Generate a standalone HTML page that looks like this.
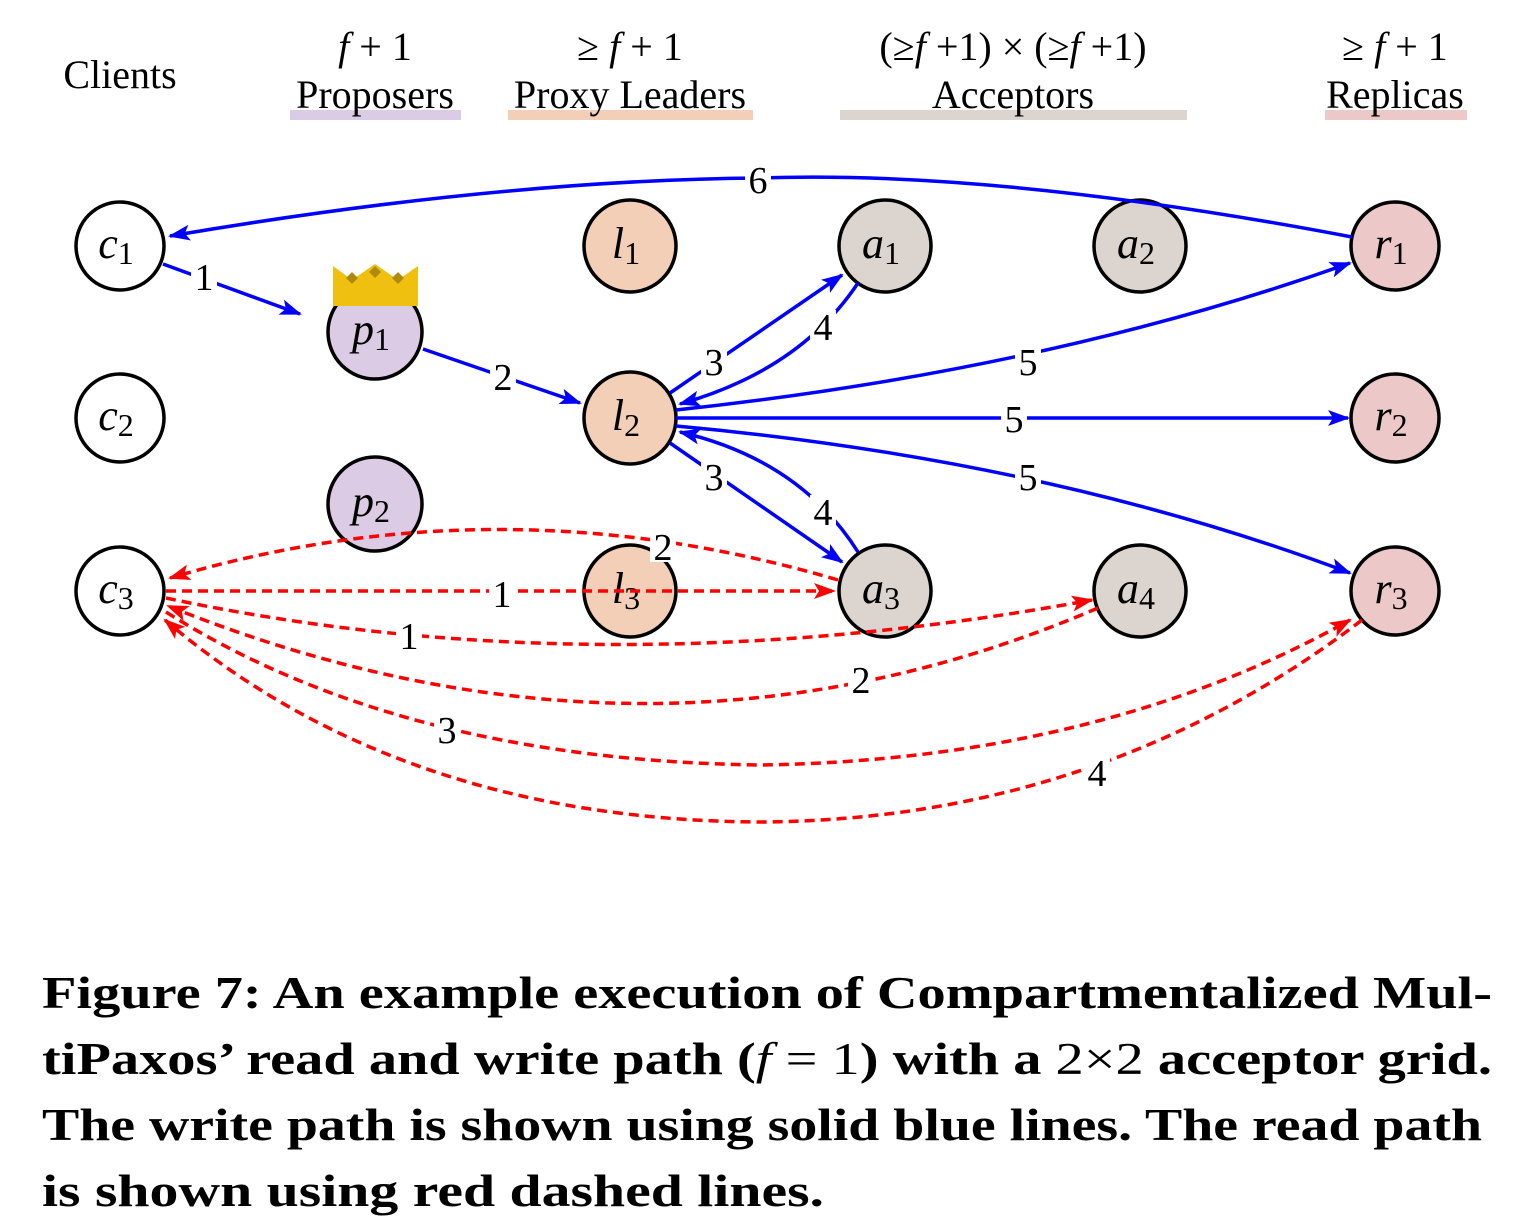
<!DOCTYPE html>
<html><head><meta charset="utf-8"><style>body{margin:0;background:#fff}svg{display:block}</style></head><body>
<svg width="1524" height="1232" viewBox="0 0 1524 1232" xmlns="http://www.w3.org/2000/svg" font-family="Liberation Serif, serif">
<defs>
<marker id="ab" markerWidth="22" markerHeight="16" refX="20" refY="8" orient="auto" markerUnits="userSpaceOnUse" viewBox="0 0 22 16"><path d="M0,0L22,8L0,16L5,8z" fill="#00f"/></marker>
<marker id="ar" markerWidth="22" markerHeight="16" refX="20" refY="8" orient="auto" markerUnits="userSpaceOnUse" viewBox="0 0 22 16"><path d="M0,0L22,8L0,16L5,8z" fill="#f00"/></marker>
</defs>
<style>
.b{fill:none;stroke:#00f;stroke-width:3.5}
.r{fill:none;stroke:#f00;stroke-width:3.5;stroke-dasharray:10,6}
.n{stroke:#000;stroke-width:3.5}
.h{font-size:40px;text-anchor:middle}
.l{font-size:44px;text-anchor:middle;font-style:italic}
.el{font-size:38px;text-anchor:middle}
</style>
<!-- headers -->
<text class="h" x="120" y="88">Clients</text>
<text class="h" x="375" y="60"><tspan font-style="italic">f</tspan> + 1</text>
<rect x="290" y="110" width="171" height="10" fill="#dccbe4"/>
<text class="h" x="375" y="108">Proposers</text>
<rect x="508" y="110" width="245" height="10" fill="#f2cfb6"/>
<text class="h" x="630" y="60">≥ <tspan font-style="italic">f</tspan> + 1</text>
<text class="h" x="630" y="108">Proxy Leaders</text>
<rect x="840" y="110" width="347" height="10" fill="#dcd4cf"/>
<text class="h" x="1013" y="60">(≥<tspan font-style="italic">f</tspan> +1) × (≥<tspan font-style="italic">f</tspan> +1)</text>
<text class="h" x="1013" y="108">Acceptors</text>
<rect x="1325" y="110" width="142" height="10" fill="#ecc8c8"/>
<text class="h" x="1395" y="60">≥ <tspan font-style="italic">f</tspan> + 1</text>
<text class="h" x="1395" y="108">Replicas</text>

<!-- nodes -->
<g class="n">
<circle cx="120" cy="246" r="44" fill="#fff"/>
<circle cx="120" cy="418" r="44" fill="#fff"/>
<circle cx="120" cy="591" r="44" fill="#fff"/>
<circle cx="375" cy="332" r="47" fill="#dccbe4"/>
<circle cx="375" cy="504" r="47" fill="#dccbe4"/>
<circle cx="630" cy="246" r="46" fill="#f2cfb6"/>
<circle cx="630" cy="418" r="46" fill="#f2cfb6"/>
<circle cx="630" cy="591" r="46" fill="#f2cfb6"/>
<circle cx="885" cy="246" r="46" fill="#dcd4cf"/>
<circle cx="1140" cy="246" r="46" fill="#dcd4cf"/>
<circle cx="885" cy="591" r="46" fill="#dcd4cf"/>
<circle cx="1140" cy="591" r="46" fill="#dcd4cf"/>
<circle cx="1395" cy="246" r="44" fill="#ecc8c8"/>
<circle cx="1395" cy="418" r="44" fill="#ecc8c8"/>
<circle cx="1395" cy="591" r="44" fill="#ecc8c8"/>
</g>

<!-- node labels -->
<g class="l">
<text x="116" y="258">c<tspan font-style="normal" font-size="32" dy="6">1</tspan></text>
<text x="116" y="430">c<tspan font-style="normal" font-size="32" dy="6">2</tspan></text>
<text x="116" y="603">c<tspan font-style="normal" font-size="32" dy="6">3</tspan></text>
<text x="371" y="344">p<tspan font-style="normal" font-size="32" dy="6">1</tspan></text>
<text x="371" y="516">p<tspan font-style="normal" font-size="32" dy="6">2</tspan></text>
<text x="626" y="258">l<tspan font-style="normal" font-size="32" dy="6">1</tspan></text>
<text x="626" y="430">l<tspan font-style="normal" font-size="32" dy="6">2</tspan></text>
<text x="626" y="603">l<tspan font-style="normal" font-size="32" dy="6">3</tspan></text>
<text x="881" y="258">a<tspan font-style="normal" font-size="32" dy="6">1</tspan></text>
<text x="1136" y="258">a<tspan font-style="normal" font-size="32" dy="6">2</tspan></text>
<text x="881" y="603">a<tspan font-style="normal" font-size="32" dy="6">3</tspan></text>
<text x="1136" y="603">a<tspan font-style="normal" font-size="32" dy="6">4</tspan></text>
<text x="1391" y="258">r<tspan font-style="normal" font-size="32" dy="6">1</tspan></text>
<text x="1391" y="430">r<tspan font-style="normal" font-size="32" dy="6">2</tspan></text>
<text x="1391" y="603">r<tspan font-style="normal" font-size="32" dy="6">3</tspan></text>
</g>

<!-- blue edges -->
<path class="b" d="M1352,237 Q1000,170 760,178 Q500,180 170,236" marker-end="url(#ab)"/>
<path class="b" d="M163,264 L300,314" marker-end="url(#ab)"/>
<path class="b" d="M423,349 L580,403" marker-end="url(#ab)"/>
<path class="b" d="M670,393 L842,275" marker-end="url(#ab)"/>
<path class="b" d="M858,283 Q800,370 680,404" marker-end="url(#ab)"/>
<path class="b" d="M670,443 L842,562" marker-end="url(#ab)"/>
<path class="b" d="M858,552 Q800,460 680,432" marker-end="url(#ab)"/>
<path class="b" d="M676,410 Q1050,370 1350,263" marker-end="url(#ab)"/>
<path class="b" d="M676,418 L1348,418" marker-end="url(#ab)"/>
<path class="b" d="M676,426 Q1050,460 1350,573" marker-end="url(#ab)"/>

<!-- red edges -->
<path class="r" d="M838,580 Q500,480 170,578" marker-end="url(#ar)"/>
<path class="r" d="M166,591 L834,591" marker-end="url(#ar)"/>
<path class="r" d="M166,598 Q600,690 1092,600" marker-end="url(#ar)"/>
<path class="r" d="M1098,608 Q650,800 168,606" marker-end="url(#ar)"/>
<path class="r" d="M166,612 Q400,760 760,765 Q1100,760 1350,620" marker-end="url(#ar)"/>
<path class="r" d="M1362,620 Q1100,820 760,822 Q400,820 165,620" marker-end="url(#ar)"/>

<!-- crown -->
<path d="M333,306 L333,266 L352,280 L375,264 L398,280 L418,266 L418,306 Z" fill="#f0c010"/>
<path d="M352,272 l6,6 -6,6 -6,-6z M375,266 l6,6 -6,6 -6,-6z M398,272 l6,6 -6,6 -6,-6z" fill="#b08a10"/>

<!-- edge labels -->
<g class="el">
<rect x="745" y="165" width="26" height="30" fill="#fff"/><text x="758" y="193">6</text>
<rect x="191" y="260" width="26" height="32" fill="#fff"/><text x="204" y="290">1</text>
<rect x="490" y="360" width="26" height="32" fill="#fff"/><text x="503" y="390">2</text>
<rect x="701" y="345" width="26" height="32" fill="#fff"/><text x="714" y="375">3</text>
<rect x="810" y="310" width="26" height="32" fill="#fff"/><text x="823" y="340">4</text>
<rect x="701" y="460" width="26" height="32" fill="#fff"/><text x="714" y="490">3</text>
<rect x="810" y="495" width="26" height="32" fill="#fff"/><text x="823" y="525">4</text>
<rect x="1015" y="345" width="26" height="32" fill="#fff"/><text x="1028" y="375">5</text>
<rect x="1001" y="403" width="26" height="32" fill="#fff"/><text x="1014" y="432">5</text>
<rect x="1015" y="460" width="26" height="32" fill="#fff"/><text x="1028" y="490">5</text>
<rect x="650" y="530" width="26" height="32" fill="#fff"/><text x="663" y="560">2</text>
<rect x="489" y="578" width="26" height="30" fill="#fff"/><text x="502" y="607">1</text>
<rect x="396" y="620" width="26" height="32" fill="#fff"/><text x="409" y="649">1</text>
<rect x="848" y="665" width="26" height="32" fill="#fff"/><text x="861" y="693">2</text>
<rect x="434" y="714" width="26" height="32" fill="#fff"/><text x="447" y="743">3</text>
<rect x="1084" y="757" width="26" height="32" fill="#fff"/><text x="1097" y="786">4</text>
</g>

<!-- caption -->
<g font-size="45" font-weight="bold">
<text x="42" y="1008" textLength="1450" lengthAdjust="spacingAndGlyphs">Figure 7: An example execution of Compartmentalized Mul-</text>
<text x="42" y="1074" textLength="1450" lengthAdjust="spacingAndGlyphs">tiPaxos’ read and write path (<tspan font-style="italic" font-weight="normal">f</tspan> <tspan font-weight="normal">= 1</tspan>) with a <tspan font-weight="normal">2×2</tspan> acceptor grid.</text>
<text x="42" y="1140" textLength="1440" lengthAdjust="spacingAndGlyphs">The write path is shown using solid blue lines. The read path</text>
<text x="42" y="1206" textLength="782" lengthAdjust="spacingAndGlyphs">is shown using red dashed lines.</text>
</g>
</svg>
</body></html>
